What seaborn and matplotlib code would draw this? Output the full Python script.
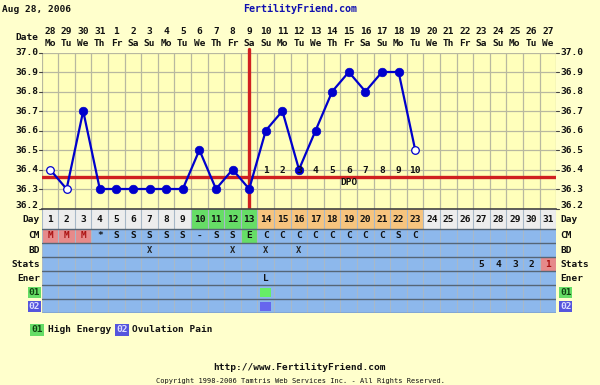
import numpy as np
import pandas as pd
import seaborn as sns
import matplotlib
matplotlib.use("Agg")
import matplotlib.pyplot as plt
from matplotlib.patches import Rectangle

# ---------------- data ----------------
days = list(range(1, 32))
dates = ["28", "29", "30", "31"] + [str(i) for i in range(1, 28)]
weekdays = (["Mo", "Tu", "We", "Th", "Fr", "Sa", "Su"] * 5)[:31]
temp_days = list(range(1, 24))
temps = [36.4, 36.3, 36.7, 36.3, 36.3, 36.3, 36.3, 36.3, 36.3, 36.5, 36.3, 36.4,
         36.3, 36.6, 36.7, 36.4, 36.6, 36.8, 36.9, 36.8, 36.9, 36.9, 36.5]
open_days = [1, 2, 23]
coverline = 36.36
ovulation_day = 13
dpo_labels = [str(i) for i in range(1, 11)]
dpo_days = list(range(14, 24))
cm = ["M", "M", "M", "*", "S", "S", "S", "S", "S", "-", "S", "S", "E",
      "C", "C", "C", "C", "C", "C", "C", "C", "S", "C"]
bd_days = [7, 12, 14, 16]
stats_days = [27, 28, 29, 30, 31]
stats_vals = ["5", "4", "3", "2", "1"]
ener_days = [14]
ener_vals = ["L"]
o1_days = [14]
o2_days = [14]
yticks = [36.2, 36.3, 36.4, 36.5, 36.6, 36.7, 36.8, 36.9, 37.0]

# ---------------- style ----------------
W, H = 600, 385
PAGE = "#FFFFCC"
CHART = "#FFFFBB"
GRID = "#B8B8A0"
BLUECELL = "#8DB8EC"
GREEN = "#66DD66"
ORANGE = "#F7C47E"
GREY = "#EDEDED"
PINK = "#E68A8A"
RED = "#D02020"
PT = "#0000CC"
FONT = "DejaVu Sans Mono"
FS = 6.8

sns.set_theme(style="white")
plt.rcParams["font.family"] = [FONT, "DejaVu Sans"]

fig = plt.figure(figsize=(W / 100, H / 100), dpi=100, facecolor=PAGE)

X0, X1 = 41.7, 556.3  # px extents of day columns
def fx(px):
    return px / W
def fy(py):
    return 1 - py / H
def colx(d):
    return X0 + (d - 0.5) * (X1 - X0) / 31

T_TOP, T_BOT = 52.5, 208.5
ax = fig.add_axes([fx(X0), fy(T_BOT), fx(X1 - X0), (T_BOT - T_TOP) / H])
ax.set_facecolor(CHART)
ax.set_xlim(0.5, 31.5)
ax.set_ylim(36.2, 37.0)
for d in np.arange(0.5, 32, 1):
    ax.axvline(d, color=GRID, lw=0.9, zorder=0)
for t in yticks:
    ax.axhline(t, color=GRID, lw=0.9, zorder=0)
ax.set_xticks([]); ax.set_yticks([])
for s in ax.spines.values():
    s.set_visible(False)
ax.spines["bottom"].set_visible(True)
ax.spines["bottom"].set_color("#444444")
ax.spines["bottom"].set_linewidth(1.2)

# red lines
ax.axhline(coverline, color=RED, lw=2.4, zorder=2)
ax.axvline(ovulation_day, color=RED, lw=2.4, zorder=2, ymax=1.02, clip_on=False)

df = pd.DataFrame({"day": temp_days, "temp": temps})
df["open"] = df["day"].isin(open_days)
sns.lineplot(data=df, x="day", y="temp", ax=ax, color=PT, lw=1.6, zorder=3,
             legend=False)
sns.scatterplot(data=df[~df["open"]], x="day", y="temp", ax=ax, color=PT,
                s=38, edgecolor=PT, linewidth=0.5, zorder=4, legend=False)
sns.scatterplot(data=df[df["open"]], x="day", y="temp", ax=ax, color="white",
                s=30, edgecolor=PT, linewidth=0.9, zorder=4, legend=False)
ax.set_xlabel(""); ax.set_ylabel("")

# DPO labels
for lab, d in zip(dpo_labels, dpo_days):
    ax.text(d, 36.37, lab, ha="center", va="bottom", fontsize=FS,
            fontweight="bold", color="#111111", zorder=5)
ax.text(19, 36.335, "DPO", ha="center", va="center", fontsize=FS,
        fontweight="bold", color="#111111", zorder=5)

# y labels on both sides
for t in yticks:
    yy = T_BOT - (t - 36.2) / 0.8 * (T_BOT - T_TOP)
    fig.add_artist(plt.Line2D([fx(38.5), fx(X0)], [fy(yy), fy(yy)], color="#444444", lw=0.8))
    fig.add_artist(plt.Line2D([fx(X1), fx(558.5)], [fy(yy), fy(yy)], color="#444444", lw=0.8))
    if t == 36.2:
        yy = 206
    fig.text(fx(38), fy(yy), f"{t:.1f}", ha="right", va="center",
             fontsize=FS, fontweight="bold", color="#111111")
    fig.text(fx(560), fy(yy), f"{t:.1f}", ha="left", va="center",
             fontsize=FS, fontweight="bold", color="#111111")

# header
fig.text(fx(2), fy(9), "Aug 28, 2006", ha="left", va="center", fontsize=FS,
         fontweight="bold", color="#111111")
fig.text(fx(300), fy(9), "FertilityFriend.com", ha="center", va="center",
         fontsize=FS + 0.4, fontweight="bold", color="#1010B0")
fig.text(fx(27), fy(37), "Date", ha="center", va="center", fontsize=FS,
         fontweight="bold", color="#111111")
for d, dt, wd in zip(days, dates, weekdays):
    fig.text(fx(colx(d)), fy(31.5), dt, ha="center", va="center", fontsize=FS,
             fontweight="bold", color="#111111")
    fig.text(fx(colx(d)), fy(43), wd, ha="center", va="center", fontsize=FS,
             fontweight="bold", color="#111111")

# ---------------- table ----------------
rows = [("Day", 208.5, 228.5), ("CM", 228.5, 243.3), ("BD", 243.3, 257.3),
        ("Stats", 257.3, 271.3), ("Ener", 271.3, 285.3), ("01", 285.3, 299.3),
        ("02", 299.3, 313.3)]
tb = fig.add_axes([fx(X0), fy(313.3), fx(X1 - X0), (313.3 - 208.5) / H])
tb.set_xlim(0.5, 31.5)
tb.set_ylim(313.3, 208.5)
tb.axis("off")

def cell(d, r0, r1, color):
    tb.add_patch(Rectangle((d - 0.5, r0), 1, r1 - r0, facecolor=color,
                           edgecolor="none", zorder=1))

day_row = rows[0]
for d in days:
    if 10 <= d <= 13:
        c = GREEN
    elif 14 <= d <= 23:
        c = ORANGE
    else:
        c = GREY
    cell(d, day_row[1], day_row[2], c)
    tb.text(d, (day_row[1] + day_row[2]) / 2 + 1.5, str(d), ha="center",
            va="center", fontsize=FS, fontweight="bold", color="#111111", zorder=3)

for name, r0, r1 in rows[1:]:
    for d in days:
        cell(d, r0, r1, BLUECELL)

cm_row = rows[1]
for d, v in zip(days, cm):
    if v == "M":
        cell(d, cm_row[1], cm_row[2], PINK)
        col = "#AA1010"
    elif v == "E":
        cell(d, cm_row[1], cm_row[2], GREEN)
        col = "#111111"
    else:
        col = "#111111"
    tb.text(d, (cm_row[1] + cm_row[2]) / 2, v, ha="center", va="center",
            fontsize=FS, fontweight="bold", color=col, zorder=3)

bd_row = rows[2]
for d in bd_days:
    tb.text(d, (bd_row[1] + bd_row[2]) / 2, "X", ha="center", va="center",
            fontsize=FS - 0.5, fontweight="bold", color="#222222", zorder=3)

st_row = rows[3]
for d, v in zip(stats_days, stats_vals):
    if v == "1":
        cell(d, st_row[1], st_row[2], PINK)
        col = "#AA1010"
    else:
        col = "#111111"
    tb.text(d, (st_row[1] + st_row[2]) / 2, v, ha="center", va="center",
            fontsize=FS, fontweight="bold", color=col, zorder=3)

en_row = rows[4]
for d, v in zip(ener_days, ener_vals):
    tb.text(d, (en_row[1] + en_row[2]) / 2, v, ha="center", va="center",
            fontsize=FS, fontweight="bold", color="#111111", zorder=3)

o1_row, o2_row = rows[5], rows[6]
for d in o1_days:
    tb.add_patch(Rectangle((d - 0.32, o1_row[1] + 2.5), 0.64, o1_row[2] - o1_row[1] - 5,
                           facecolor="#66EE66", edgecolor="none", zorder=2))
for d in o2_days:
    tb.add_patch(Rectangle((d - 0.32, o2_row[1] + 2.5), 0.64, o2_row[2] - o2_row[1] - 5,
                           facecolor="#6666EE", edgecolor="none", zorder=2))

# grid lines of the table
for d in np.arange(0.5, 32, 1):
    tb.plot([d, d], [208.5, 313.3], color="#A8B8C8", lw=0.8, zorder=2)
for _, r0, r1 in rows:
    tb.plot([0.5, 31.5], [r1, r1], color="#556677", lw=1.0, zorder=2)
tb.plot([0.5, 31.5], [208.5, 208.5], color="#444444", lw=1.2, zorder=2)

# row labels
for name, r0, r1 in rows:
    yy = (r0 + r1) / 2
    if name == "Day":
        yy += 1.5
    if name == "01":
        bg = dict(boxstyle="square,pad=0.1", facecolor="#66DD66", edgecolor="none")
        col = "#114411"
    elif name == "02":
        bg = dict(boxstyle="square,pad=0.1", facecolor="#5555DD", edgecolor="none")
        col = "#DDDDFF"
    else:
        bg = None
        col = "#111111"
    fig.text(fx(40), fy(yy), name, ha="right", va="center", fontsize=FS,
             fontweight="bold", color=col, bbox=bg)
    fig.text(fx(560), fy(yy), name, ha="left", va="center", fontsize=FS,
             fontweight="bold", color=col, bbox=bg)

# legend
fig.text(fx(31), fy(330), "01", ha="left", va="center", fontsize=FS,
         fontweight="bold", color="#114411",
         bbox=dict(boxstyle="square,pad=0.15", facecolor="#66DD66", edgecolor="none"))
fig.text(fx(48), fy(330), "High Energy", ha="left", va="center", fontsize=FS,
         fontweight="bold", color="#111111")
fig.text(fx(116), fy(330), "02", ha="left", va="center", fontsize=FS,
         fontweight="bold", color="#DDDDFF",
         bbox=dict(boxstyle="square,pad=0.15", facecolor="#5555DD", edgecolor="none"))
fig.text(fx(132), fy(330), "Ovulation Pain", ha="left", va="center", fontsize=FS,
         fontweight="bold", color="#111111")

# footer
fig.text(fx(300), fy(368), "http://www.FertilityFriend.com", ha="center",
         va="center", fontsize=FS, fontweight="bold", color="#111111")
fig.text(fx(300), fy(381), "Copyright 1998-2006 Tamtris Web Services Inc. - All Rights Reserved.",
         ha="center", va="center", fontsize=5.0, color="#111111")

fig.savefig("out.png", dpi=100, facecolor=PAGE)
